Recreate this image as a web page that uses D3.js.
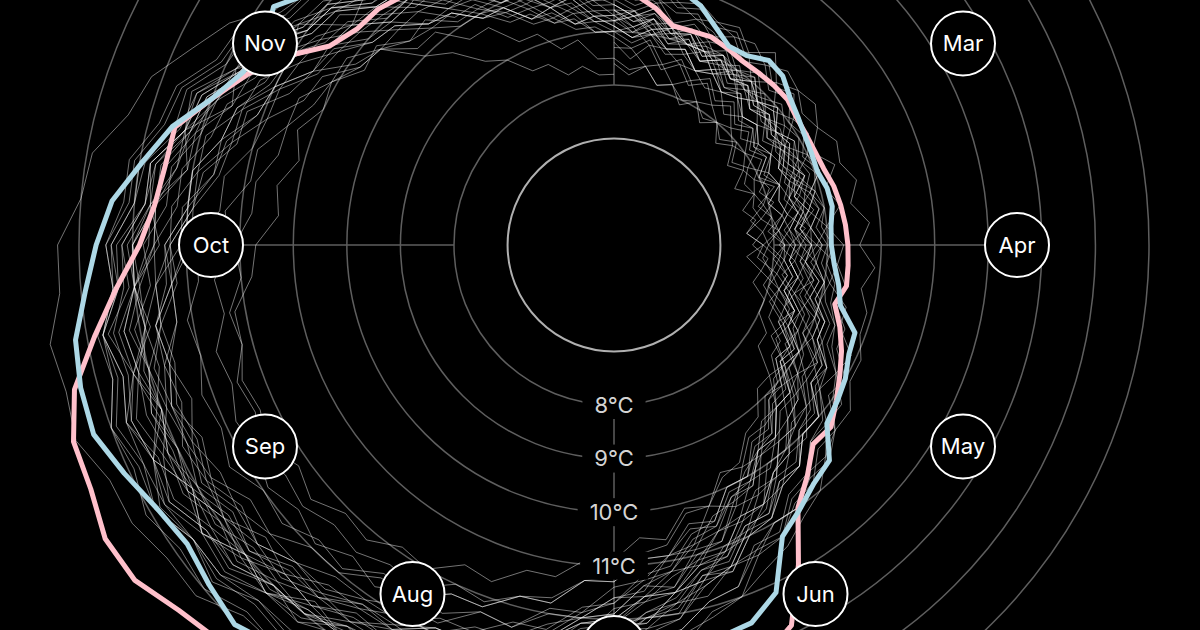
<!DOCTYPE html>
<html>
<head>
<meta charset="utf-8">
<script src="https://cdn.jsdelivr.net/npm/d3@7"></script>
<style>
  html, body { margin: 0; padding: 0; background: #000; overflow: hidden; }
  svg { display: block; }
</style>
</head>
<body>
<svg id="chart" width="1200" height="630"></svg>
<script>
// ---------------- DATA ----------------
const months = ["Jan","Feb","Mar","Apr","May","Jun","Jul","Aug","Sep","Oct","Nov","Dec"];
const tempLabels = [8, 9, 10, 11];
const gridTemps = [8, 9, 10, 11, 12, 13, 14, 15];
const baseTemp = 7;

// values sampled at 73 evenly spaced points through the year (°C)
const highlightPink = [9.8,9.7,9.5,9.25,9.26,9.3,9.25,9.2,9.21,9.23,
  9.24,9.17,9.15,9.15,9.18,9.26,9.31,9.35,9.38,9.4,
  9.42,9.28,9.5,9.7,9.88,10.08,10.3,10.27,10.63,11.0,
  11.9,12.85,13.2,13.4,13.6,13.7,13.8,14.0,14.1,14.3,
  14.5,14.6,14.8,15.0,15.2,15.45,15.62,15.93,15.98,15.79,
  15.75,15.44,14.86,14.34,13.87,13.62,13.52,13.5,13.0,12.56,
  12.07,11.49,11.28,11.24,11.1,10.9,10.75,10.6,10.45,10.3,
  10.15,10.0,9.9];

const highlightBlue = [10.2,10.1,10.0,9.92,9.76,9.5,9.3,9.33,9.51,9.47,
  9.3,9.2,9.12,9.08,9.05,9.13,9.15,9.08,9.07,9.14,
  9.27,9.39,9.8,9.85,10.0,10.1,10.2,10.7,10.82,11.05,
  11.3,12.17,12.52,12.6,12.8,13.0,13.2,13.4,13.6,13.8,
  14.0,14.1,14.3,14.5,14.8,15.03,14.88,14.74,14.86,15.1,
  15.35,15.32,15.22,14.92,14.68,14.42,13.95,13.55,13.0,12.65,
  12.55,12.77,12.35,12.1,11.8,11.4,11.05,10.8,10.6,10.5,
  10.4,10.3,10.2];

const otherYears = [
 [8.8,8.5,8.8,8.4,8.6,8.3,8.5,8.2,8.4,8.1, 8.3,8.0,8.2,7.9,8.2,7.8,8.0,8.1,7.8,8.1, 8.0,8.2,8.2,8.6,8.5,8.9,8.9,9.3,9.4,9.8, 9.8,10.4,10.2,10.8,10.9,11.3,11.4,11.9,11.9,12.4, 12.3,12.8,12.8,13.1,13.1,13.4,13.4,13.6,13.5,13.7, 13.4,13.6,13.3,13.3,13.0,13.0,12.6,12.5,12.1,12.0, 11.5,11.4,10.9,10.8,10.4,10.3,9.9,9.8,9.4,9.4, 9.1,9.1,8.9],
 [9.7,9.5,9.7,9.3,9.5,9.4,9.2,9.4,9.0,9.3, 8.9,9.1,8.7,9.0,8.6,8.9,8.7,8.4,8.7,8.5, 8.8,8.5,9.0,8.9,9.4,9.2,9.7,9.8,10.0,10.2, 10.6,10.7,11.2,11.3,11.7,11.9,12.4,12.6,13.0,13.2, 13.7,13.6,14.2,14.0,14.4,14.4,14.6,14.6,14.7,14.7, 14.7,14.3,14.6,14.1,14.2,13.8,13.8,13.3,13.4,12.8, 12.5,12.0,11.9,11.4,11.3,11.0,10.8,10.4,10.4,10.1, 10.0,9.7,9.7],
 [9.2,9.4,9.0,9.1,9.0,9.0,8.7,9.0,8.6,8.8, 8.5,8.7,8.4,8.5,8.3,8.4,8.2,8.3,8.1,8.4, 8.2,8.5,8.4,8.8,8.7,9.2,9.1,9.6,9.7,10.1, 10.1,10.6,10.7,11.1,11.3,11.7,11.8,12.4,12.5,12.9, 13.0,13.4,13.4,13.9,13.8,14.2,14.0,14.4,14.1,14.5, 14.1,14.3,13.9,14.0,13.6,13.6,13.1,13.1,12.6,12.5, 12.0,11.8,11.4,11.3,10.8,10.8,10.3,10.3,9.8,9.9, 9.5,9.6,9.3],
 [8.7,8.7,8.4,8.5,8.2,8.4,8.1,8.2,8.0,8.1, 7.9,8.0,7.8,7.9,7.8,7.9,7.6,7.8,7.6,7.9, 7.8,8.2,8.1,8.5,8.4,8.9,8.8,9.3,9.3,9.7, 9.9,10.3,10.4,10.9,10.9,11.5,11.6,12.0,12.2,12.6, 12.6,13.0,13.0,13.3,13.3,13.7,13.5,13.9,13.7,13.8, 13.8,13.9,13.6,13.6,13.3,13.3,12.9,12.9,12.4,12.3, 11.8,11.7,11.2,11.1,10.7,10.6,10.1,10.1,9.7,9.7, 9.4,9.4,9.2],
 [9.4,9.2,9.4,9.1,9.2,8.9,9.1,8.8,9.0,8.8, 9.0,8.7,8.9,8.8,9.0,8.9,9.0,8.9,9.1,9.0, 9.2,9.2,9.4,9.4,9.8,9.7,10.2,10.2,10.6,10.7, 11.2,11.2,11.8,11.9,12.3,12.5,12.9,13.0,13.4,13.4, 13.6,13.6,13.9,13.8,14.0,13.9,14.2,14.0,14.3,14.2, 14.3,14.2,14.3,14.0,14.1,13.7,13.8,13.3,13.3,12.8, 12.7,12.2,12.1,11.6,11.6,11.1,11.1,10.6,10.6,10.2, 10.2,9.9,9.9],
 [9.3,9.0,9.3,8.9,9.1,8.8,9.0,8.7,8.9,8.6, 8.7,8.5,8.6,8.4,8.5,8.4,8.5,8.3,8.4,8.3, 8.5,8.4,8.7,8.6,8.9,8.8,9.2,9.2,9.6,9.6, 10.0,10.0,10.5,10.4,10.9,10.9,11.3,11.3,11.8,11.8, 12.1,12.0,12.4,12.3,12.5,12.4,12.6,12.5,12.7,12.4, 12.5,12.2,12.2,11.8,11.7,11.3,11.4,11.1,11.3,11.0, 11.1,10.7,10.8,10.4,10.5,10.1,10.1,9.8,9.8,9.4, 9.5,9.2,9.2],
 [9.5,9.3,9.5,9.1,9.3,9.1,9.1,9.0,9.1,8.8, 8.9,8.7,8.8,8.6,8.8,8.5,8.7,8.5,8.7,8.6, 8.8,8.7,9.1,9.1,9.5,9.5,10.0,10.0,10.4,10.5, 10.9,11.0,11.5,11.5,12.1,12.2,12.6,12.8,13.3,13.3, 13.8,13.8,14.3,14.4,14.8,14.8,15.2,15.2,15.4,15.4, 15.7,15.6,15.7,15.4,15.4,15.0,14.9,14.4,14.2,13.7, 13.3,12.7,12.6,12.0,11.9,11.4,11.3,10.8,10.7,10.3, 10.3,9.9,9.9],
 [9.4,9.2,9.3,9.1,9.2,8.9,9.1,8.8,9.0,8.7, 8.8,8.6,8.7,8.5,8.6,8.5,8.6,8.4,8.5,8.4, 8.6,8.5,8.8,8.8,9.1,9.2,9.5,9.6,10.0,10.0, 10.6,10.6,11.1,11.2,11.6,11.7,12.1,12.1,12.7,12.7, 12.9,12.9,13.3,13.2,13.6,13.5,13.9,13.7,14.0,13.8, 13.9,13.7,13.7,13.3,13.3,12.9,12.8,12.3,12.3,11.7, 11.5,10.9,10.7,10.0,9.7,9.2,9.0,8.6,8.6,8.3, 8.4,8.2,8.2],
 [8.4,8.2,8.4,8.1,8.2,8.0,8.1,7.9,8.0,7.8, 8.0,7.7,7.9,7.7,7.8,7.7,7.8,7.5,7.8,7.7, 8.1,8.0,8.4,8.4,8.8,8.8,9.3,9.3,9.7,9.8, 10.4,10.4,10.9,10.9,11.5,11.4,11.9,12.0,12.5,12.5, 13.1,13.0,13.5,13.5,13.8,13.7,14.1,13.9,14.2,14.1, 14.2,14.0,14.1,13.7,13.8,13.4,13.4,13.0,12.9,12.4, 12.2,11.7,11.7,11.1,11.0,10.6,10.6,10.1,10.1,9.7, 9.8,9.4,9.4],
 [9.1,8.9,9.1,8.8,8.9,8.6,8.8,8.6,8.7,8.4, 8.5,8.3,8.4,8.2,8.3,8.2,8.3,8.1,8.2,8.2, 8.4,8.3,8.6,8.6,9.0,8.9,9.4,9.4,9.8,9.8, 10.1,10.1,10.6,10.5,10.9,10.9,11.3,11.3,11.8,11.8, 12.2,12.2,12.6,12.6,13.0,13.0,13.4,13.3,13.7,13.5, 13.8,13.6,13.7,13.4,13.4,13.0,13.0,12.6,12.5,12.0, 12.0,11.5,11.4,10.9,10.9,10.4,10.3,9.9,9.9,9.6, 9.6,9.2,9.2],
 [10.0,9.8,10.0,9.7,9.8,9.6,9.7,9.4,9.7,9.3, 9.5,9.3,9.4,9.1,9.4,9.1,9.3,9.0,9.3,9.2, 9.4,9.3,9.6,9.6,10.0,9.9,10.4,10.4,10.8,10.9, 11.3,11.3,11.8,11.9,12.3,12.4,12.8,12.9,13.3,13.4, 13.8,13.8,14.2,14.2,14.5,14.4,14.8,14.6,14.9,14.7, 14.9,14.6,14.7,14.3,14.4,14.0,14.0,13.5,13.5,13.0, 12.9,12.4,12.3,11.8,11.7,11.3,11.2,10.8,10.8,10.4, 10.4,10.1,10.1],
 [9.4,9.1,9.3,9.0,9.2,8.8,9.0,8.8,8.9,8.6, 8.8,8.5,8.7,8.4,8.6,8.4,8.5,8.3,8.5,8.3, 8.5,8.3,8.6,8.4,8.8,8.7,9.1,9.1,9.5,9.5, 10.0,10.0,10.5,10.6,11.1,11.2,11.7,11.9,12.4,12.5, 13.0,13.1,13.6,13.7,14.1,14.2,14.6,14.6,14.9,14.8, 15.0,14.7,14.8,14.4,14.4,14.0,13.9,13.4,13.3,12.7, 12.6,12.0,11.9,11.3,11.2,10.7,10.7,10.2,10.2,9.8, 9.9,9.5,9.5],
 [9.0,9.1,8.8,8.8,8.6,8.6,8.4,8.5,8.2,8.4, 8.1,8.3,7.9,8.2,7.9,8.1,7.8,8.1,7.9,8.2, 8.1,8.4,8.4,8.8,8.8,9.2,9.3,9.8,9.8,10.3, 10.4,10.9,11.0,11.5,11.6,12.1,12.2,12.7,12.7,13.2, 13.2,13.6,13.6,13.9,13.9,14.2,14.1,14.4,14.2,14.3, 13.9,14.0,13.6,13.6,13.1,13.1,12.6,12.6,12.1,12.0, 11.5,11.5,11.0,10.9,10.4,10.4,10.0,9.9,9.5,9.5, 9.2,9.2,9.0],
 [9.3,9.4,9.1,9.2,9.0,9.1,8.8,9.0,8.8,8.9, 8.7,8.8,8.7,8.8,8.7,8.9,8.7,9.0,8.8,9.2, 9.1,9.5,9.5,9.9,9.8,10.2,10.2,10.6,10.6,11.0, 11.0,11.4,11.4,11.8,11.8,12.2,12.2,12.6,12.6,13.0, 12.9,13.3,13.2,13.6,13.5,13.8,13.7,13.9,13.8,13.9, 13.6,13.7,13.3,13.3,12.9,12.9,12.5,12.4,11.9,11.9, 11.4,11.3,10.9,10.8,10.4,10.3,9.9,9.9,9.5,9.6, 9.2,9.3,9.1],
 [9.2,9.0,9.2,8.9,9.0,8.8,8.9,8.6,8.8,8.6, 8.7,8.4,8.6,8.4,8.5,8.3,8.5,8.2,8.4,8.3, 8.5,8.4,8.7,8.7,9.0,8.9,9.3,9.3,9.7,9.7, 10.1,10.2,10.6,10.7,11.2,11.4,11.9,12.0,12.5,12.6, 13.1,13.1,13.6,13.6,14.0,14.0,14.3,14.3,14.6,14.5, 14.7,14.5,14.7,14.4,14.5,14.1,14.1,13.7,13.6,13.1, 13.0,12.6,12.4,12.0,11.9,11.4,11.3,10.8,10.8,10.3, 10.3,9.9,9.9],
 [8.5,8.3,8.4,8.1,8.2,7.9,8.1,7.8,8.0,7.7, 7.9,7.6,7.8,7.5,7.8,7.5,7.7,7.5,7.8,7.5, 7.8,7.7,8.0,8.0,8.3,8.3,8.8,8.8,9.2,9.3, 9.7,9.8,10.2,10.2,10.7,10.8,11.2,11.3,11.7,11.8, 12.2,12.2,12.6,12.5,12.9,12.8,13.1,13.0,13.3,13.1, 13.2,13.0,13.1,12.8,12.8,12.4,12.4,12.0,11.9,11.4, 11.3,10.8,10.7,10.2,10.2,9.7,9.7,9.2,9.2,8.8, 8.9,8.5,8.5],
 [9.6,9.4,9.6,9.2,9.4,9.2,9.3,9.0,9.2,8.9, 9.1,8.9,9.0,8.8,8.9,8.7,8.9,8.7,8.9,8.8, 9.0,8.9,9.2,9.2,9.6,9.5,10.0,10.0,10.4,10.5, 10.9,11.0,11.5,11.4,12.0,12.0,12.5,12.4,13.0,13.0, 13.5,13.3,13.9,13.7,14.2,14.0,14.4,14.3,14.6,14.3, 14.5,14.2,14.3,14.0,14.0,13.6,13.6,13.2,13.1,12.6, 12.5,12.0,11.9,11.4,11.4,10.9,10.9,10.4,10.4,10.0, 10.1,9.7,9.7],
 [9.1,8.9,9.1,8.8,8.9,8.6,8.8,8.5,8.7,8.4, 8.5,8.2,8.4,8.1,8.3,8.0,8.2,8.0,8.2,8.1, 8.3,8.2,8.6,8.6,9.0,9.0,9.5,9.6,10.1,10.2, 10.7,10.9,11.4,11.6,12.1,12.3,12.8,13.0,13.5,13.6, 14.0,14.0,14.4,14.4,14.8,14.7,15.0,14.9,15.1,14.9, 15.0,14.7,14.7,14.3,14.3,13.8,13.7,13.2,13.1,12.6, 12.4,11.9,11.8,11.3,11.2,10.8,10.7,10.3,10.3,9.9, 9.9,9.6,9.6],
 [9.2,9.3,9.0,9.2,8.8,9.0,8.7,8.9,8.6,8.8, 8.6,8.7,8.5,8.6,8.4,8.6,8.3,8.6,8.3,8.6, 8.5,8.8,8.7,9.1,9.0,9.4,9.4,9.8,9.8,10.3, 10.3,10.7,10.7,11.2,11.2,11.6,11.6,12.0,12.0,12.4, 12.3,12.6,12.5,12.8,12.6,12.9,12.7,12.9,12.7,12.8, 12.6,12.7,12.4,12.5,12.2,12.3,11.9,11.9,11.5,11.5, 11.1,11.1,10.7,10.7,10.3,10.3,9.9,9.9,9.5,9.6, 9.2,9.3,9.1],
 [9.8,9.6,9.7,9.5,9.6,9.3,9.5,9.2,9.4,9.1, 9.3,9.0,9.1,8.9,9.1,8.8,9.0,8.8,9.0,8.9, 9.1,9.0,9.3,9.3,9.6,9.6,10.0,10.0,10.4,10.4, 10.8,10.8,11.2,11.2,11.6,11.6,12.0,12.1,12.5,12.5, 12.9,12.9,13.3,13.3,13.6,13.6,13.9,13.8,14.1,14.0, 14.2,14.0,14.2,13.9,14.0,13.7,13.7,13.3,13.2,12.7, 12.6,12.1,12.0,11.5,11.4,11.0,11.0,10.5,10.5,10.1, 10.1,9.8,9.8],
 [9.3,9.1,9.3,9.0,9.1,8.8,9.0,8.8,8.9,8.7, 8.8,8.6,8.7,8.5,8.7,8.4,8.6,8.4,8.6,8.5, 8.7,8.6,8.9,8.9,9.3,9.3,9.7,9.7,10.1,10.2, 10.6,10.6,11.1,11.1,11.6,11.6,12.0,12.1,12.5,12.5, 12.9,12.9,13.2,13.2,13.5,13.4,13.7,13.6,13.9,13.7, 13.8,13.6,13.7,13.3,13.4,13.0,13.0,12.6,12.5,12.1, 12.0,11.5,11.4,10.9,10.9,10.4,10.4,10.0,10.0,9.6, 9.7,9.3,9.3],
 [9.5,9.3,9.4,9.2,9.3,9.0,9.1,8.9,9.0,8.8, 8.9,8.7,8.8,8.6,8.8,8.5,8.7,8.5,8.7,8.6, 8.9,8.8,9.2,9.2,9.6,9.7,10.1,10.2,10.7,10.8, 11.3,11.4,12.0,12.1,12.6,12.8,13.3,13.4,13.8,13.8, 14.2,14.1,14.4,14.3,14.6,14.5,14.7,14.6,14.8,14.5, 14.6,14.3,14.4,14.0,14.0,13.6,13.5,13.1,13.0,12.5, 12.4,11.9,11.8,11.3,11.2,10.8,10.7,10.3,10.3,9.9, 9.9,9.6,9.6],
 [8.9,8.7,8.9,8.5,8.7,8.4,8.6,8.3,8.5,8.2, 8.4,8.1,8.3,8.0,8.3,8.0,8.2,7.9,8.2,8.0, 8.3,8.2,8.5,8.5,8.9,8.8,9.3,9.3,9.7,9.7, 10.2,10.2,10.7,10.8,11.2,11.3,11.7,11.8,12.3,12.3, 12.7,12.7,13.1,13.1,13.4,13.4,13.7,13.5,13.8,13.6, 13.7,13.5,13.6,13.2,13.3,12.9,12.9,12.4,12.4,11.9, 11.8,11.3,11.2,10.7,10.7,10.2,10.2,9.7,9.7,9.3, 9.4,9.0,9.0],
 [9.5,9.3,9.5,9.2,9.3,9.0,9.2,8.9,9.1,8.8, 9.0,8.7,8.9,8.7,8.8,8.6,8.8,8.5,8.8,8.6, 8.9,8.8,9.1,9.1,9.4,9.4,9.8,9.9,10.3,10.3, 10.8,10.8,11.3,11.3,11.8,11.9,12.3,12.4,12.9,12.9, 13.3,13.3,13.7,13.7,14.0,14.0,14.3,14.2,14.5,14.4, 14.7,14.5,14.7,14.4,14.5,14.2,14.2,13.8,13.7,13.2, 13.1,12.5,12.4,11.9,11.7,11.2,11.1,10.6,10.6,10.2, 10.2,9.8,9.8],
 [9.1,8.9,9.0,8.8,8.9,8.6,8.7,8.5,8.6,8.3, 8.4,8.2,8.3,8.0,8.1,7.9,8.0,7.8,7.9,7.8, 8.0,7.9,8.2,8.2,8.6,8.6,9.0,9.1,9.6,9.7, 10.2,10.3,10.9,11.0,11.5,11.6,12.1,12.2,12.7,12.7, 13.1,13.1,13.5,13.4,13.8,13.7,14.0,13.9,14.2,14.0, 14.1,13.8,13.9,13.6,13.6,13.2,13.2,12.8,12.7,12.2, 12.1,11.6,11.5,11.0,11.0,10.5,10.5,10.0,10.0,9.6, 9.7,9.3,9.3],
 [9.9,9.7,9.9,9.6,9.7,9.5,9.6,9.3,9.5,9.2, 9.4,9.1,9.2,9.0,9.1,8.8,8.9,8.7,8.9,8.7, 9.0,8.9,9.2,9.2,9.5,9.5,9.9,9.9,10.4,10.4, 10.9,10.9,11.4,11.4,11.9,12.0,12.4,12.5,13.0,13.1, 13.5,13.5,13.9,13.9,14.2,14.2,14.5,14.4,14.7,14.5, 14.6,14.4,14.5,14.2,14.2,13.8,13.8,13.3,13.2,12.7, 12.6,12.1,12.0,11.5,11.4,11.0,10.9,10.5,10.5,10.1, 10.1,9.8,9.8],
 [9.7,9.8,9.6,9.7,9.5,9.6,9.5,9.6,9.4,9.6, 9.5,9.6,9.4,9.6,9.5,9.7,9.5,9.8,9.6,9.9, 9.7,9.9,9.9,10.1,10.1,10.4,10.4,10.7,10.7,11.0, 11.0,11.3,11.4,11.6,11.8,12.0,12.1,12.4,12.5,12.8, 12.9,13.2,13.3,13.6,13.6,13.9,13.8,14.1,14.0,14.2, 14.0,14.2,13.9,14.0,13.7,13.7,13.3,13.3,12.9,12.8, 12.4,12.3,11.9,11.8,11.4,11.3,10.9,10.8,10.4,10.4, 10.0,10.0,9.8],
 [9.0,8.8,9.0,8.7,8.8,8.6,8.7,8.5,8.6,8.4, 8.5,8.3,8.4,8.2,8.3,8.2,8.3,8.1,8.3,8.2, 8.4,8.3,8.6,8.5,8.8,8.7,9.1,9.0,9.4,9.4, 9.8,9.7,10.2,10.1,10.6,10.5,10.9,10.9,11.3,11.3, 11.7,11.6,12.0,11.9,12.2,12.1,12.4,12.2,12.5,12.3, 12.4,12.2,12.3,12.0,12.1,11.8,11.8,11.5,11.5,11.2, 11.1,10.8,10.7,10.4,10.3,10.0,10.0,9.6,9.6,9.3, 9.3,9.0,9.0],
 [9.4,9.4,9.2,9.3,9.0,9.2,8.9,9.1,8.8,9.0, 8.7,8.9,8.6,8.8,8.5,8.8,8.5,8.7,8.5,8.8, 8.7,9.0,9.0,9.3,9.3,9.7,9.7,10.1,10.1,10.5, 10.6,11.0,11.1,11.5,11.6,12.1,12.1,12.6,12.6,13.1, 13.0,13.5,13.4,13.9,13.7,14.2,14.0,14.4,14.1,14.5, 14.0,14.3,13.8,14.0,13.5,13.7,13.1,13.3,12.6,12.8, 12.0,12.2,11.4,11.6,10.9,11.1,10.4,10.6,10.0,10.1, 9.7,9.7,9.5],
 [9.2,9.3,9.1,9.2,9.0,9.0,8.9,8.9,8.8,8.8, 8.7,8.7,8.6,8.7,8.6,8.7,8.6,8.7,8.7,8.8, 9.0,9.1,9.4,9.5,9.8,10.0,10.4,10.6,11.0,11.2, 11.5,11.7,12.0,12.2,12.4,12.7,12.8,13.1,13.2,13.4, 13.5,13.7,13.7,13.9,13.9,14.1,14.0,14.2,14.1,14.2, 14.0,14.1,13.9,13.9,13.6,13.6,13.3,13.2,12.9,12.7, 12.4,12.2,11.8,11.6,11.3,11.1,10.8,10.6,10.3,10.2, 9.9,9.8,9.6]
];

// ---------------- LAYOUT ----------------
const width = 1200, height = 630;
const cx = 614, cy = 245;
const monthRadius = 403;
const monthCircleR = 32;
const samples = highlightPink.length - 1; // 72 steps round the circle

const svg = d3.select("#chart");
svg.append("rect").attr("width", width).attr("height", height).attr("fill", "#000");

const g = svg.append("g").attr("transform", `translate(${cx},${cy})`);

const r = d3.scaleLinear().domain([8, 15]).range([160, 535]);
const angle = d3.scaleLinear().domain([0, samples]).range([0, 2 * Math.PI]);
const monthAngle = d3.scaleBand().domain(months).range([0, 2 * Math.PI]).paddingInner(0).align(0);

// grid rings
g.append("g").selectAll("circle").data(gridTemps).join("circle")
  .attr("r", d => r(d)).attr("fill", "none")
  .attr("stroke", "#5e5e5e").attr("stroke-width", 1.5);

g.append("circle").attr("r", r(baseTemp)).attr("fill", "none")
  .attr("stroke", "#b0b0b0").attr("stroke-width", 2);

// quarter spokes
const spokeMonths = ["Jan", "Apr", "Jul", "Oct"];
g.append("g").selectAll("line").data(spokeMonths).join("line")
  .attr("x1", d => d3.pointRadial(monthAngle(d), r(8))[0])
  .attr("y1", d => d3.pointRadial(monthAngle(d), r(8))[1])
  .attr("x2", d => d3.pointRadial(monthAngle(d), monthRadius - monthCircleR)[0])
  .attr("y2", d => d3.pointRadial(monthAngle(d), monthRadius - monthCircleR)[1])
  .attr("stroke", "#5e5e5e").attr("stroke-width", 1.5);

// year lines
const radialLine = d3.lineRadial()
  .angle((d, i) => angle(i))
  .radius(d => r(d))
  .curve(d3.curveLinear);

g.append("g").selectAll("path").data(otherYears).join("path")
  .attr("d", radialLine)
  .attr("fill", "none")
  .attr("stroke", "#ffffff")
  .attr("stroke-opacity", 0.45)
  .attr("stroke-width", 1);

g.append("path").datum(highlightPink).attr("d", radialLine)
  .attr("fill", "none").attr("stroke", "#ffc0cb").attr("stroke-width", 5)
  .attr("stroke-linejoin", "round").attr("stroke-linecap", "round");

g.append("path").datum(highlightBlue).attr("d", radialLine)
  .attr("fill", "none").attr("stroke", "#add8e6").attr("stroke-width", 5)
  .attr("stroke-linejoin", "round").attr("stroke-linecap", "round");

// temperature labels along the bottom spoke
const tl = g.append("g").selectAll("g").data(tempLabels).join("g")
  .attr("transform", d => {
    const p = d3.pointRadial(Math.PI, r(d));
    return `translate(${p[0]},${p[1]})`;
  });
tl.append("text")
  .attr("text-anchor", "middle").attr("dy", "0.36em")
  .attr("font-family", "Inter, 'Noto Sans', sans-serif")
  .attr("font-size", 22).attr("fill", "#d4d4d4")
  .text(d => `${d}°C`)
  .each(function() {
    const b = this.getBBox();
    d3.select(this.parentNode).insert("rect", "text")
      .attr("x", b.x - 12).attr("y", -14)
      .attr("width", b.width + 24).attr("height", 28)
      .attr("fill", "#000");
  });

// month labels
const ml = g.append("g").selectAll("g").data(months).join("g")
  .attr("transform", d => {
    const p = d3.pointRadial(monthAngle(d), monthRadius);
    return `translate(${p[0]},${p[1]})`;
  });
ml.append("circle").attr("r", monthCircleR)
  .attr("fill", "#000").attr("stroke", "#fff").attr("stroke-width", 2);
// text only where it falls inside the picture
ml.filter(d => {
    const y = d3.pointRadial(monthAngle(d), monthRadius)[1] + cy;
    return y > 12 && y < height - 12;
  })
  .append("text")
  .attr("text-anchor", "middle").attr("dy", "0.36em")
  .attr("font-family", "Inter, 'Noto Sans', sans-serif")
  .attr("font-size", 22).attr("fill", "#fff")
  .text(d => d);
</script>
</body>
</html>
